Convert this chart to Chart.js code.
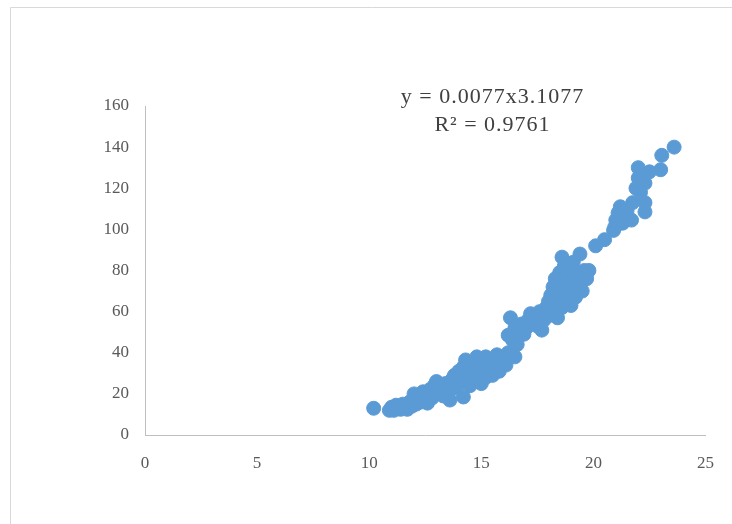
<!DOCTYPE html>
<html>
<head>
<meta charset="utf-8">
<script src="https://cdn.jsdelivr.net/npm/chart.js@4/dist/chart.umd.min.js"></script>
<style>
  html, body { margin: 0; padding: 0; background: #fff; }
  #wrap { position: relative; width: 732px; height: 524px; }
</style>
</head>
<body>
<div id="wrap"><canvas id="scatterChart" width="732" height="524"></canvas></div>
<script>
// x and y values
const xValues = [
  10.2, 10.9, 11.0, 11.1, 11.2, 11.3, 11.4, 11.5, 11.5, 11.6, 11.7, 11.8, 11.9, 12.0, 12.0, 12.1,
  12.2, 12.3, 12.4, 12.5, 12.6, 12.7, 12.8, 12.9, 13.0, 13.0, 13.2, 13.3,
  13.4, 13.5, 13.6, 13.7, 13.8, 13.9, 14.0, 14.1, 14.2, 14.2, 14.3, 14.4, 14.5, 14.5, 14.6, 14.7,
  14.8, 14.8, 14.9, 15.0, 15.0, 15.1, 15.2, 15.2, 15.3, 15.4, 15.5, 15.5, 15.6, 15.7, 15.8, 15.9,
  16.0, 16.1,
  16.2, 16.2, 16.3, 16.4, 16.5, 16.5, 16.6, 16.7, 16.8, 16.9, 17.0, 17.1, 17.2, 17.3, 17.4, 17.5,
  17.6, 17.7, 17.8,
  17.9, 18.0, 18.0, 18.1, 18.2, 18.2, 18.3, 18.3, 18.4, 18.4, 18.5, 18.5, 18.6, 18.6, 18.6, 18.7,
  18.7, 18.8, 18.8, 18.9, 18.9, 19.0, 19.0, 19.0, 19.1, 19.1, 19.2, 19.2, 19.3, 19.4, 19.4, 19.5,
  19.6, 19.7, 19.8,
  20.1, 20.5, 20.9, 20.95, 21.0, 21.1, 21.2, 21.3, 21.4, 21.5, 21.7, 21.75, 21.9, 22.0, 22.0, 22.1,
  22.3, 22.3, 22.3, 22.5, 23.0, 23.05, 23.6
];
const yValues = [
  13, 12, 13.5, 12, 14.5, 13, 12.5, 15, 13, 14, 12.5, 16, 14, 17.5, 20, 15,
  18, 16, 21, 19, 15.5, 22, 18, 24, 26, 21, 23, 19,
  25, 19.5, 17, 27, 29, 23, 31, 26, 18.5, 33, 36.5, 29, 24, 32, 35, 27,
  38, 30, 33, 25, 36, 31, 28, 38, 34, 32, 29, 37, 35, 39, 31, 36,
  38, 34,
  40, 48.5, 57, 46, 38, 52, 44, 50, 54, 49, 52, 56, 59, 54, 57, 53,
  60, 51, 56,
  62, 58, 65, 68, 60, 72, 64, 76, 57, 70, 67, 79, 74, 62, 86.5, 71,
  82, 68, 77, 64, 74, 80, 70, 63, 76, 84, 72, 67, 78, 88, 74, 70,
  80, 76, 80,
  92, 95, 99.5, 101, 104.5, 108, 111, 103, 106, 109, 104.5, 113, 120, 125, 130, 118,
  108.5, 113, 122.5, 128, 129, 136, 140
];
const xTicks = [0, 5, 10, 15, 20, 25];
const yTicks = [0, 20, 40, 60, 80, 100, 120, 140, 160];
const equationLines = ['y = 0.0077x3.1077', 'R\u00b2 = 0.9761'];

const points = xValues.map((x, i) => ({ x: x, y: yValues[i] }));

// frame line + trendline label
const decorPlugin = {
  id: 'decor',
  beforeDraw(chart) {
    const c = chart.ctx;
    c.save();
    c.strokeStyle = '#d9d9d9';
    c.lineWidth = 1;
    c.beginPath();
    c.moveTo(10.5, 524);
    c.lineTo(10.5, 7.5);
    c.lineTo(732, 7.5);
    c.stroke();
    c.restore();
  },
  afterDraw(chart) {
    const c = chart.ctx;
    const xs = chart.scales.x;
    const ys = chart.scales.y;
    c.save();
    c.fillStyle = '#404040';
    c.font = '22px "Liberation Serif"';
    c.letterSpacing = '1px';
    c.textAlign = 'center';
    c.textBaseline = 'middle';
    c.fillText(equationLines[0], xs.getPixelForValue(15.5), ys.getPixelForValue(164.5));
    c.fillText(equationLines[1], xs.getPixelForValue(15.5), ys.getPixelForValue(150.5));
    c.restore();
  }
};

const ctx = document.getElementById('scatterChart').getContext('2d');
new Chart(ctx, {
  type: 'scatter',
  data: {
    datasets: [{
      data: points,
      backgroundColor: '#5b9bd5',
      borderColor: '#5b9bd5',
      pointRadius: 7,
      pointHoverRadius: 7
    }]
  },
  options: {
    responsive: false,
    animation: false,
    layout: { padding: { left: 0, top: 106, right: 24, bottom: 0 } },
    plugins: { legend: { display: false }, tooltip: { enabled: false } },
    scales: {
      x: {
        type: 'linear',
        min: 0,
        max: 25,
        afterBuildTicks: axis => { axis.ticks = xTicks.map(v => ({ value: v })); },
        afterFit: axis => { axis.height = 89; },
        grid: { display: false, drawTicks: false },
        border: { color: '#bfbfbf', width: 1 },
        ticks: { padding: 18, color: '#595959', font: { family: 'Liberation Serif', size: 17 } }
      },
      y: {
        type: 'linear',
        min: 0,
        max: 160,
        afterBuildTicks: axis => { axis.ticks = yTicks.map(v => ({ value: v })); },
        afterFit: axis => { axis.width = 145; },
        grid: { display: false, drawTicks: false },
        border: { color: '#bfbfbf', width: 1 },
        ticks: { padding: 16, color: '#595959', font: { family: 'Liberation Serif', size: 17 } }
      }
    }
  },
  plugins: [decorPlugin]
});
</script>
</body>
</html>
